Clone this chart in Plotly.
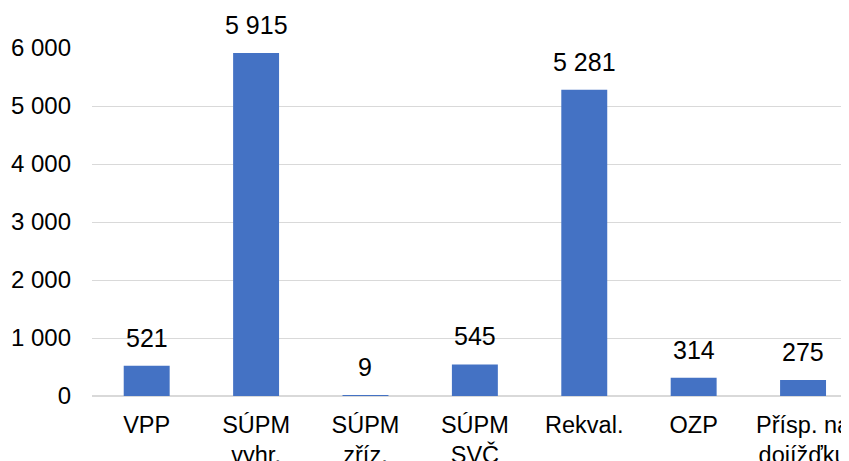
import plotly.graph_objects as go

categories = ["VPP", "SÚPM<br>vyhr.", "SÚPM<br>zříz.", "SÚPM<br>SVČ", "Rekval.", "OZP", "Přísp. na<br>dojížďku"]
values = [521, 5915, 9, 545, 5281, 314, 275]
y_ticks = [0, 1000, 2000, 3000, 4000, 5000, 6000]

font_family = "Liberation Sans, Arial, sans-serif"

x_pos = list(range(len(categories)))

fig = go.Figure(
    go.Bar(
        x=x_pos,
        y=values,
        marker=dict(color="#4472C4", line=dict(width=0)),
        width=0.42,
        hoverinfo="skip",
    )
)

for xi, v in zip(x_pos, values):
    fig.add_annotation(
        x=xi, y=v, xref="x", yref="y",
        text=f"{v:,}".replace(",", " "),
        showarrow=False,
        yanchor="middle",
        yshift=28,
        font=dict(size=25, color="#000000", family=font_family),
    )

fig.update_layout(
    width=841,
    height=453,
    margin=dict(l=84, r=0, t=40, b=65),
    paper_bgcolor="white",
    plot_bgcolor="white",
    separators=", ",
    font=dict(family=font_family, size=24, color="#000000"),
    showlegend=False,
    xaxis=dict(
        tickmode="array",
        tickvals=x_pos,
        ticktext=categories,
        range=[-0.5, 6.42],
        showgrid=False,
        showline=False,
        zeroline=False,
        ticks="",
        automargin=False,
        ticklabeloverflow="allow",
        ticklabelstandoff=12,
        tickfont=dict(size=23.5),
    ),
    yaxis=dict(
        range=[0, 6000],
        tickvals=y_ticks,
        tickformat=",d",
        showgrid=True,
        gridcolor="#D9D9D9",
        gridwidth=1,
        zeroline=True,
        zerolinecolor="#D9D9D9",
        zerolinewidth=2,
        showline=False,
        ticks="",
        automargin=False,
        ticklabelstandoff=20,
        tickfont=dict(size=24),
    ),
)

fig.write_html("out.html")
